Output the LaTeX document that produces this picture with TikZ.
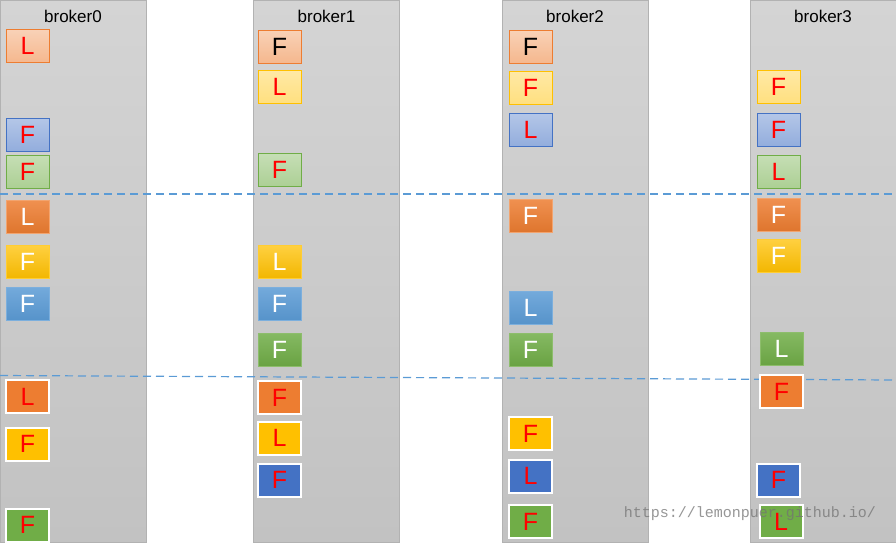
\documentclass[tikz,border=0pt]{standalone}
\usepackage{fontspec}
\setmainfont{Liberation Sans}
\newfontfamily\wmfont{Liberation Mono}
\definecolor{colT}{HTML}{D4D4D4}
\definecolor{colB}{HTML}{C2C2C2}
\definecolor{colE}{HTML}{B2B2B2}
\definecolor{cutblue}{HTML}{5B9BD5}
\definecolor{orgE}{HTML}{ED7D31}
\definecolor{yelE}{HTML}{FFC000}
\definecolor{bluE}{HTML}{4472C4}
\definecolor{grnE}{HTML}{70AD47}
\definecolor{midblu}{HTML}{5B9BD5}

\tikzset{
  broker/.style={draw=colE, line width=1pt, top color=colT, bottom color=colB,
    minimum width=146pt, minimum height=542pt, inner sep=0pt},
  part/.style={minimum width=43pt, minimum height=33pt, inner sep=0pt,
    font=\fontsize{25}{25}\selectfont},
  lsal/.style={part, draw=orgE, line width=1pt, top color=orgE!35, bottom color=orgE!55},
  lyel/.style={part, draw=yelE, line width=1pt, top color=yelE!35, bottom color=yelE!50},
  lblu/.style={part, draw=bluE, line width=1pt, top color=bluE!40, bottom color=bluE!58},
  lgrn/.style={part, draw=grnE, line width=1pt, top color=grnE!40, bottom color=grnE!58},
  morg/.style={part, draw=orgE!70, line width=0.6pt, top color=orgE!85!white, bottom color=orgE!94!black, text=white},
  myel/.style={part, draw=yelE!80, line width=0.6pt, top color=yelE!75!white, bottom color=yelE!95!black, text=white},
  mblu/.style={part, draw=midblu!80, line width=0.6pt, top color=midblu!85!white, bottom color=midblu!95!black, text=white},
  mgrn/.style={part, draw=grnE!80, line width=0.6pt, top color=grnE!85!white, bottom color=grnE!94!black, text=white},
  forg/.style={part, draw=white, line width=2pt, fill=orgE, text=red},
  fyel/.style={part, draw=white, line width=2pt, fill=yelE, text=red},
  fblu/.style={part, draw=white, line width=2pt, fill=bluE, text=red},
  fgrn/.style={part, draw=white, line width=2pt, fill=grnE, text=red},
  cut/.style={draw=cutblue, line width=1.2pt, dash pattern=on 8pt off 5pt}
}

\begin{document}
\begin{tikzpicture}[x=1pt, y=-1pt]
    \useasboundingbox [fill=white] (0,0) rectangle (896,542);

    % brokers
    \node [broker] (col0) at (73,271) {};
    \node [broker] (col1) at (326.5,271) {};
    \node [broker] (col2) at (575,271) {};
    \node [broker] (col3) at (823,271) {};
    \node [font=\fontsize{17}{17}\selectfont] (name0) at (73,16) {broker0};
    \node [font=\fontsize{17}{17}\selectfont] (name1) at (326.5,16) {broker1};
    \node [font=\fontsize{17}{17}\selectfont] (name2) at (575,16) {broker2};
    \node [font=\fontsize{17}{17}\selectfont] (name3) at (823,16) {broker3};

    % cuts
    \coordinate (cut1w) at (0,194);
    \coordinate (cut1e) at (896,194);
    \coordinate (cut2w) at (0,375.5);
    \coordinate (cut2e) at (896,380);
    \draw [cut] (cut1w) -- (cut1e);
    \draw [cut] (cut2w) -- (cut2e);

    % broker0
    \node [lsal, text=red] (p0a) at (27.5,46) {L};
    \node [lblu, text=red] (p0b) at (27.5,134.5) {F};
    \node [lgrn, text=red] (p0c) at (27.5,171.5) {F};
    \node [morg] (p0d) at (27.5,216.5) {L};
    \node [myel] (p0e) at (27.5,262) {F};
    \node [mblu] (p0f) at (27.5,303.5) {F};
    \node [forg] (p0g) at (27.5,396.5) {L};
    \node [fyel] (p0h) at (27.5,444) {F};
    \node [fgrn] (p0i) at (27.5,525) {F};

    % broker1
    \node [lsal, text=black] (p1a) at (279.5,46.5) {F};
    \node [lyel, text=red] (p1b) at (279.5,86.5) {L};
    \node [lgrn, text=red] (p1c) at (279.5,170) {F};
    \node [myel] (p1d) at (279.5,262) {L};
    \node [mblu] (p1e) at (279.5,303.5) {F};
    \node [mgrn] (p1f) at (279.5,349.5) {F};
    \node [forg] (p1g) at (279.5,397.5) {F};
    \node [fyel] (p1h) at (279.5,438) {L};
    \node [fblu] (p1i) at (279.5,480) {F};

    % broker2
    \node [lsal, text=black] (p2a) at (530.5,46.5) {F};
    \node [lyel, text=red] (p2b) at (530.5,87.5) {F};
    \node [lblu, text=red] (p2c) at (530.5,129.5) {L};
    \node [morg] (p2d) at (530.5,215.5) {F};
    \node [mblu] (p2e) at (530.5,307.5) {L};
    \node [mgrn] (p2f) at (530.5,349.5) {F};
    \node [fyel] (p2g) at (530.5,433.5) {F};
    \node [fblu] (p2h) at (530.5,476) {L};
    \node [fgrn] (p2i) at (530.5,521.5) {F};

    % broker3
    \node [lyel, text=red] (p3a) at (778.5,86.5) {F};
    \node [lblu, text=red] (p3b) at (778.5,129.5) {F};
    \node [lgrn, text=red] (p3c) at (778.5,171.5) {L};
    \node [morg] (p3d) at (778.5,214.5) {F};
    \node [myel] (p3e) at (778.5,256) {F};
    \node [mgrn] (p3f) at (781.5,349) {L};
    \node [forg] (p3g) at (781.5,391.5) {F};
    \node [fblu] (p3h) at (778.5,480) {F};
    \node [fgrn] (p3i) at (781,521.5) {L};

    \node [font=\wmfont\fontsize{15}{15}\selectfont, text=black!55, opacity=0.75] (mark) at (750,514) {https://lemonpuer.github.io/};
\end{tikzpicture}
\end{document}
